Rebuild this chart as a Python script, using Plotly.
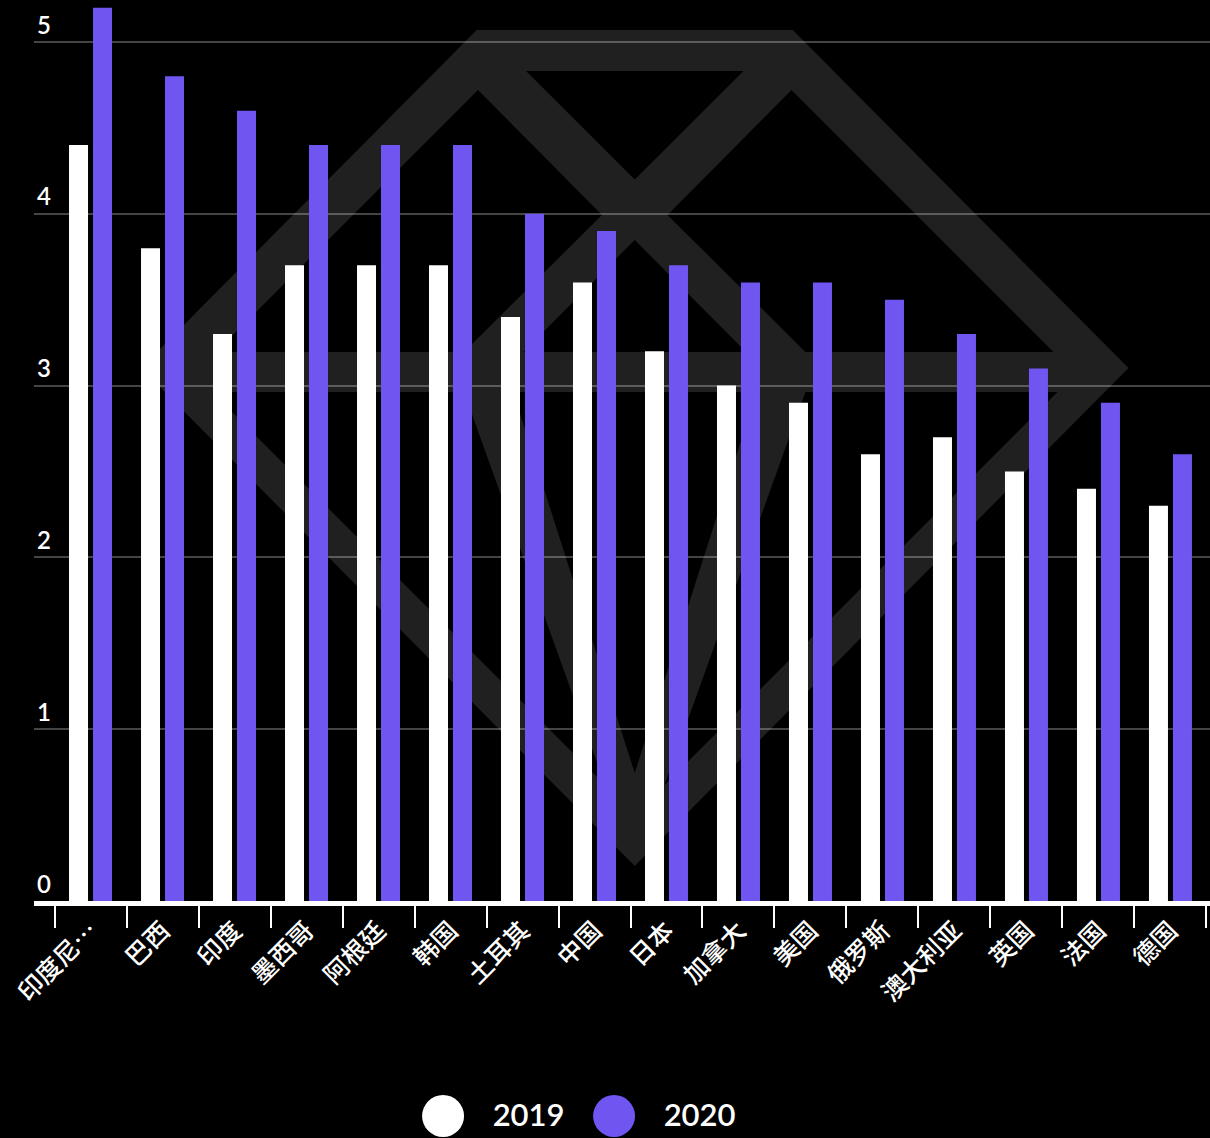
import plotly.graph_objects as go

# ---------------- data ----------------
categories = ["印度尼西亚", "巴西", "印度", "墨西哥", "阿根廷", "韩国", "土耳其", "中国",
              "日本", "加拿大", "美国", "俄罗斯", "澳大利亚", "英国", "法国", "德国"]
tick_labels = ["印度尼…", "巴西", "印度", "墨西哥", "阿根廷", "韩国", "土耳其", "中国",
               "日本", "加拿大", "美国", "俄罗斯", "澳大利亚", "英国", "法国", "德国"]
values_2019 = [4.4, 3.8, 3.3, 3.7, 3.7, 3.7, 3.4, 3.6, 3.2, 3.0, 2.9, 2.6, 2.7, 2.5, 2.4, 2.3]
values_2020 = [5.2, 4.8, 4.6, 4.4, 4.4, 4.4, 4.0, 3.9, 3.7, 3.6, 3.6, 3.5, 3.3, 3.1, 2.9, 2.6]
series_names = ["2019", "2020"]
series_colors = ["#FFFFFF", "#7055F0"]
y_ticks = [0, 1, 2, 3, 4, 5]

W, H = 1210, 1138


def to_paper(pt):
    return pt[0] / W, 1 - pt[1] / H


CX = 634.75


def mirror(pts):
    return [(2 * CX - x, y) for x, y in pts][::-1]


# watermark (gem logo) outline in pixel space: outer polygon and holes
outer = [(476.7, 30), (792.8, 30), (1128.5, 368), (CX, 866), (141, 368)]
hole_top = [(526, 71), (743.5, 71), (CX, 179.5)]
hole_left = [(478, 90), (602, 215), (464, 352), (216, 352)]
hole_center = [(CX, 240), (746, 352), (523.5, 352)]
hole_low_left = [(212, 392), (464, 392), (605, 785)]
hole_v = [(513, 392), (756.5, 392), (CX, 773)]
polys = [outer, hole_top, hole_left, mirror(hole_left), hole_center,
         hole_low_left, mirror(hole_low_left), hole_v]


def poly_path(pts):
    s = ""
    for i, p in enumerate(pts):
        x, y = to_paper(p)
        s += ("M" if i == 0 else "L") + f"{x:.5f},{y:.5f} "
    return s + "Z "


wm_path = "".join(poly_path(p) for p in polys)

fig = go.Figure()

for name, vals, col in zip(series_names, [values_2019, values_2020], series_colors):
    fig.add_trace(go.Bar(
        x=categories, y=vals, name=name,
        marker=dict(color=col, line=dict(width=0)),
        showlegend=False, xaxis="x", yaxis="y",
    ))

# custom legend (large circles) on a hidden helper axis
for i, (name, col) in enumerate(zip(series_names, series_colors)):
    fig.add_trace(go.Scatter(
        x=[i], y=[0], mode="markers",
        marker=dict(size=42, color=col, line=dict(width=0)),
        showlegend=False, hoverinfo="skip", xaxis="x2", yaxis="y2",
    ))
    fig.add_trace(go.Scatter(
        x=[i + 0.29], y=[-0.12], mode="text", text=[name],
        textposition="middle right",
        textfont=dict(family="Lato, sans-serif", size=31, color="white", weight=600),
        showlegend=False, hoverinfo="skip", xaxis="x2", yaxis="y2",
    ))

fig.update_layout(
    width=W, height=H,
    margin=dict(l=0, r=0, t=0, b=0),
    paper_bgcolor="#000000",
    plot_bgcolor="rgba(0,0,0,0)",
    barmode="group",
    bargap=1 / 3,
    bargroupgap=5 / 24,
    showlegend=False,
    font=dict(family="Lato, 'Noto Sans CJK SC', sans-serif", color="white"),
    shapes=[dict(
        type="path", path=wm_path, xref="paper", yref="paper",
        fillcolor="#202020", fillrule="evenodd", line=dict(width=0),
        layer="below",
    )],
    xaxis=dict(
        domain=[34 / W, 1], type="category", range=[-0.785, 15.549],
        tickmode="array", tickvals=categories, ticktext=tick_labels,
        tickangle=-45, tickson="boundaries",
        ticks="outside", ticklen=22, tickwidth=2, tickcolor="white",
        showline=True, linecolor="white", linewidth=5,
        showgrid=False, zeroline=False, automargin=False,
        tickfont=dict(family="'Noto Sans CJK SC', sans-serif", size=25,
                      color="white", weight=500),
    ),
    yaxis=dict(
        domain=[1 - 901 / H, 1], range=[0, 5.2445],
        tickmode="array", tickvals=y_ticks,
        showgrid=True, gridcolor="rgba(255,255,255,0.27)", gridwidth=2,
        zeroline=False, showline=False, ticks="",
        ticklabelposition="inside top", automargin=False,
        tickfont=dict(family="Lato, sans-serif", size=24, color="white", weight=600),
    ),
    xaxis2=dict(domain=[0, 1], anchor="y2", range=[-2.591, 4.485], visible=False),
    yaxis2=dict(domain=[0, 44 / H], anchor="x2", range=[-1, 1], visible=False),
)

fig.write_html("out.html")
